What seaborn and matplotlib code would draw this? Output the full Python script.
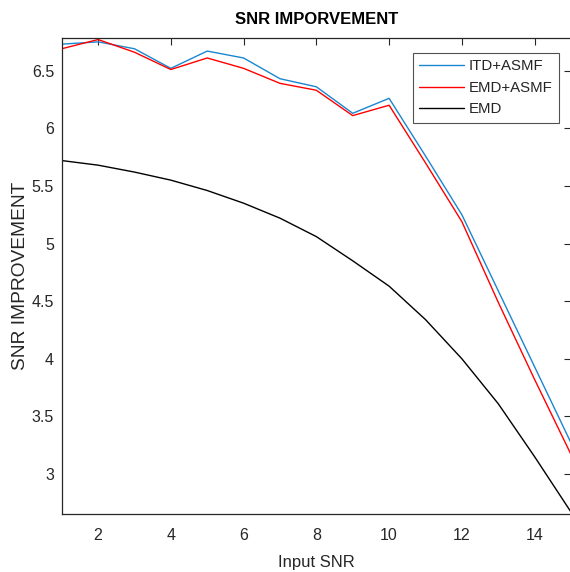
import numpy as np
import pandas as pd
import matplotlib
matplotlib.use("Agg")
import matplotlib.pyplot as plt
from matplotlib.ticker import FormatStrFormatter
import seaborn as sns

# Input SNR levels and the SNR improvement of each method
input_snr = [1, 2, 3, 4, 5, 6, 7, 8, 9, 10, 11, 12, 13, 14, 15]
itd_asmf = [6.73, 6.75, 6.69, 6.52, 6.67, 6.61, 6.43, 6.36, 6.13, 6.26,
            5.76, 5.25, 4.59, 3.93, 3.27]
emd_asmf = [6.69, 6.77, 6.66, 6.51, 6.61, 6.52, 6.39, 6.33, 6.11, 6.20,
            5.70, 5.19, 4.49, 3.82, 3.17]
emd = [5.72, 5.68, 5.62, 5.55, 5.46, 5.35, 5.22, 5.06, 4.85, 4.63,
       4.34, 4.00, 3.61, 3.15, 2.67]
series_names = ["ITD+ASMF", "EMD+ASMF", "EMD"]
series_colors = ["#1a86d0", "#ff0000", "#000000"]

df = pd.DataFrame({
    "Input SNR": input_snr * 3,
    "SNR IMPROVEMENT": itd_asmf + emd_asmf + emd,
    "Method": [n for n in series_names for _ in input_snr],
})

sns.set_theme(style="white")
plt.rcParams["font.family"] = ["Liberation Sans", "DejaVu Sans"]
axis_color = "#262626"

fig = plt.figure(figsize=(5.70, 5.72), dpi=100)
ax = fig.add_axes([61.7 / 570, 58 / 572, (571 - 61.7) / 570, (514 - 37.7) / 572])

sns.lineplot(data=df, x="Input SNR", y="SNR IMPROVEMENT", hue="Method",
             hue_order=series_names, palette=series_colors, linewidth=1.0,
             ax=ax, legend=False)

ax.set_xlim(1, 15)
ax.set_ylim(2.653, 6.786)
ax.set_xticks([2, 4, 6, 8, 10, 12, 14])
ax.set_yticks([3, 3.5, 4, 4.5, 5, 5.5, 6, 6.5])
ax.yaxis.set_major_formatter(FormatStrFormatter("%g"))

ax.tick_params(direction="in", length=5, width=0.8, colors=axis_color,
               labelsize=11.5, top=True, right=True)
ax.tick_params(axis="x", pad=10)
ax.tick_params(axis="y", pad=5.5)
for s in ax.spines.values():
    s.set_visible(True)
    s.set_color(axis_color)
    s.set_linewidth(0.9)

ax.set_title("SNR IMPORVEMENT", fontsize=12, fontweight="bold", color="black", pad=10)
ax.set_xlabel("Input SNR", fontsize=12, color=axis_color, labelpad=9)
ax.set_ylabel("SNR IMPROVEMENT", fontsize=13.8, color=axis_color, labelpad=2)

handles = [plt.Line2D([], [], color=c, lw=1.0) for c in series_colors]
leg = ax.legend(handles, series_names, loc="upper right",
                bbox_to_anchor=(559.3 / 570, 1 - 52.7 / 572),
                bbox_transform=fig.transFigure, fontsize=10.8, frameon=True,
                fancybox=False, edgecolor=axis_color, handlelength=3.0,
                handletextpad=0.3, borderpad=0.45, labelspacing=0.5,
                borderaxespad=0)
leg.get_frame().set_linewidth(0.8)

fig.savefig("out.png", dpi=100)
